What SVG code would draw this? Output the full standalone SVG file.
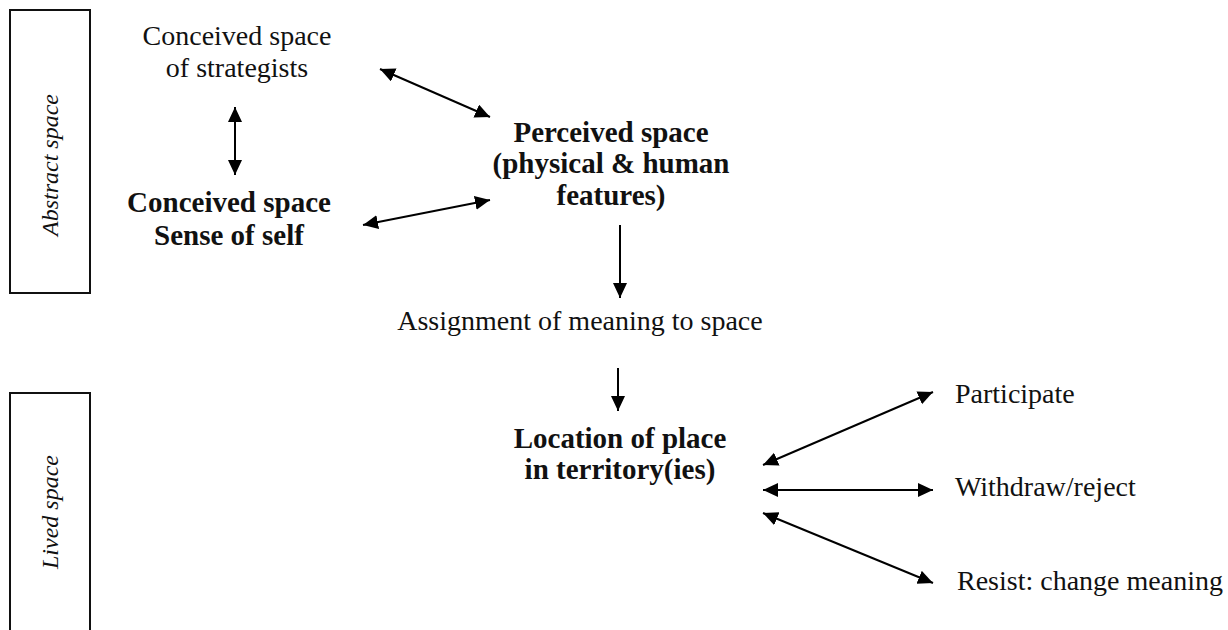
<svg xmlns="http://www.w3.org/2000/svg" width="1228" height="630" viewBox="0 0 1228 630">
<style>
text { font-family: "Liberation Serif", "DejaVu Serif", serif; fill: #111; }
.reg { font-size: 28px; }
.bold { font-size: 29px; font-weight: bold; }
.side { font-size: 24px; font-style: italic; }
.frame { fill: none; stroke: #111; stroke-width: 2; }
.conn line { stroke: #000; stroke-width: 2; }
</style>
<defs>
<marker id="ah" markerUnits="userSpaceOnUse" markerWidth="16" markerHeight="15" refX="15" refY="7" orient="auto-start-reverse" viewBox="0 0 16 15">
<path d="M0,0 L15,7 L0,14 z" fill="#000"/>
</marker>
</defs>
<rect width="1228" height="630" fill="#fff"/>
<g id="abstract-space">
<rect class="frame" x="10" y="10" width="80" height="283"/>
<text class="side" transform="translate(58,165) rotate(-90)" text-anchor="middle">Abstract space</text>
</g>
<g id="lived-space">
<rect class="frame" x="10" y="393" width="80" height="250"/>
<text class="side" transform="translate(58,512) rotate(-90)" text-anchor="middle">Lived space</text>
</g>
<g id="conceived-strategists">
<text class="reg" x="237" y="45" text-anchor="middle">Conceived space</text>
<text class="reg" x="237" y="77" text-anchor="middle">of strategists</text>
</g>
<g id="conceived-self">
<text class="bold" x="229" y="212" text-anchor="middle">Conceived space</text>
<text class="bold" x="229" y="245" text-anchor="middle">Sense of self</text>
</g>
<g id="perceived-space">
<text class="bold" x="611" y="142" text-anchor="middle">Perceived space</text>
<text class="bold" x="611" y="173" text-anchor="middle">(physical &amp; human</text>
<text class="bold" x="611" y="205" text-anchor="middle">features)</text>
</g>
<g id="assignment">
<text class="reg" x="580" y="330" text-anchor="middle">Assignment of meaning to space</text>
</g>
<g id="location">
<text class="bold" x="620" y="448" text-anchor="middle">Location of place</text>
<text class="bold" x="620" y="479" text-anchor="middle">in territory(ies)</text>
</g>
<g id="participate">
<text class="reg" x="955" y="403">Participate</text>
</g>
<g id="withdraw">
<text class="reg" x="955" y="496">Withdraw/reject</text>
</g>
<g id="resist">
<text class="reg" x="957" y="590">Resist: change meaning</text>
</g>
<g id="connectors" class="conn">
<line x1="235" y1="107" x2="235" y2="175" marker-start="url(#ah)" marker-end="url(#ah)"/>
<line x1="380" y1="69" x2="490" y2="117" marker-start="url(#ah)" marker-end="url(#ah)"/>
<line x1="363" y1="225" x2="490" y2="200" marker-start="url(#ah)" marker-end="url(#ah)"/>
<line x1="620" y1="225" x2="620" y2="298" marker-end="url(#ah)"/>
<line x1="618" y1="368" x2="618" y2="411" marker-end="url(#ah)"/>
<line x1="763" y1="465" x2="933" y2="392" marker-start="url(#ah)" marker-end="url(#ah)"/>
<line x1="763" y1="490" x2="933" y2="490" marker-start="url(#ah)" marker-end="url(#ah)"/>
<line x1="763" y1="513" x2="933" y2="583" marker-start="url(#ah)" marker-end="url(#ah)"/>
</g>
</svg>
